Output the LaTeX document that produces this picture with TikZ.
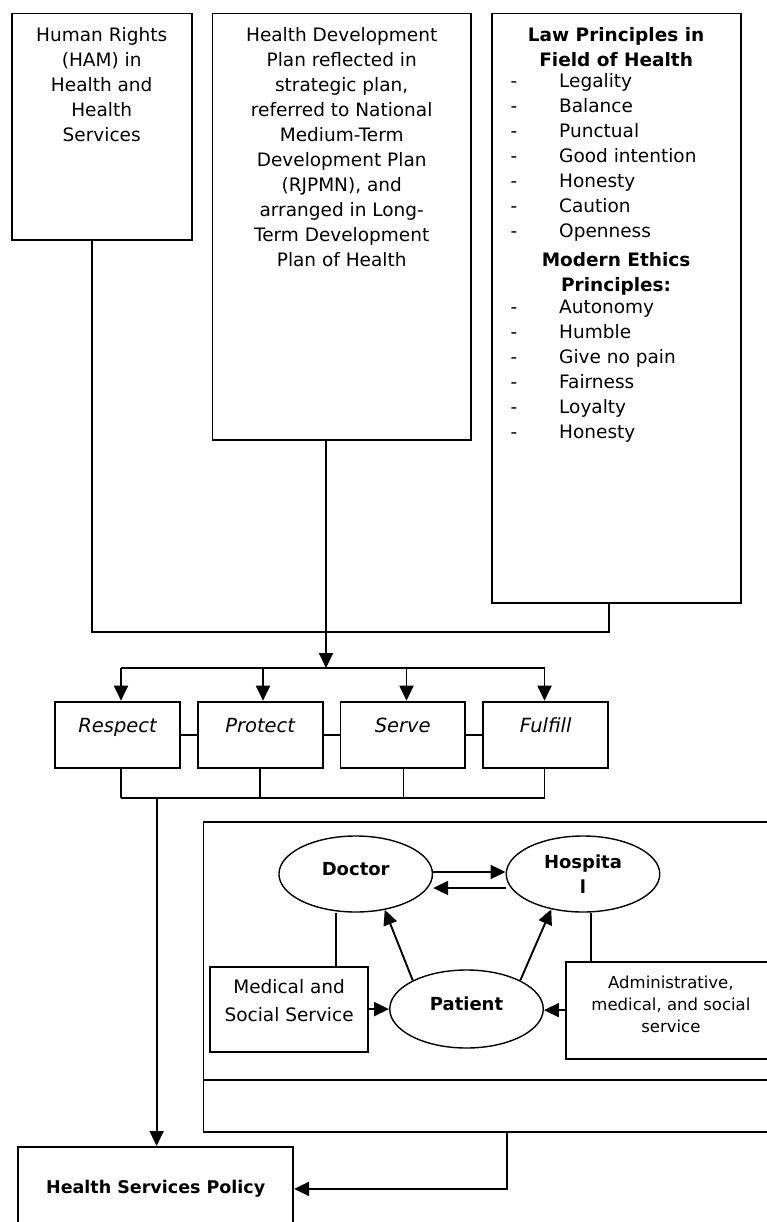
\documentclass[tikz,border=0pt]{standalone}
\usepackage{fontspec}
\setmainfont{DejaVu Sans}
\usetikzlibrary{arrows.meta,shapes.geometric}
\tikzset{
  box/.style={draw, line width=1.8pt, inner sep=0pt, anchor=north west},
  lbl/.style={inner sep=0pt, align=center, font=\fontsize{18.5}{25}\selectfont},
  bold/.style={font=\fontsize{18.5}{25}\selectfont\bfseries},
  item/.style={inner sep=0pt, font=\fontsize{18.5}{25}\selectfont},
  oval/.style={draw, ellipse, line width=1.4pt, inner sep=0pt, align=center,
    minimum width=153.5pt, minimum height=76pt, font=\fontsize{18}{25}\selectfont\bfseries},
  arr/.style={line width=1.9pt, -{Triangle[length=15pt,width=14pt]}},
  link/.style={line width=1.9pt},
  thin/.style={line width=1.1pt}
}
\begin{document}
\begin{tikzpicture}[x=1pt,y=-1pt]
\useasboundingbox (0,0) rectangle (767,1222);
\clip (0,0) rectangle (767,1222);
% top row
\node [box, minimum width=180pt, minimum height=226.6pt] (ham) at (10.8,12.7) {};
\node [lbl, anchor=north] (hamtext) at ([yshift=-14.4pt]ham.north)
  {Human Rights\\(HAM) in\\Health and\\Health\\Services};
\node [box, minimum width=258.4pt, minimum height=426.3pt] (plan) at (211.6,12.7) {};
\node [lbl, anchor=north] (plantext) at ([yshift=-14.4pt]plan.north)
  {Health Development\\Plan reflected in\\strategic plan,\\referred to National\\Medium-Term\\Development Plan\\(RJPMN), and\\arranged in Long-\\Term Development\\Plan of Health};
\node [box, minimum width=249pt, minimum height=589pt] (law) at (490.7,12.7) {};
\node [lbl, bold, anchor=north] (lawtitle) at ([yshift=-14.4pt]law.north)
  {Law Principles in\\Field of Health};
\foreach \txt [count=\i from 0] in {Legality,Balance,Punctual,Good intention,Honesty,Caution,Openness}
  {\node [item] (lawdash\i) at (514,85+25*\i) {-};
   \node [item, anchor=mid west] (lawitem\i) at (559,85+25*\i) {\txt};}
\node [lbl, bold, anchor=north] (ethtitle) at ([yshift=-239.4pt]law.north)
  {Modern Ethics\\Principles:};
\foreach \txt [count=\i from 0] in {Autonomy,Humble,Give no pain,Fairness,Loyalty,Honesty}
  {\node [item] (ethdash\i) at (514,311+25*\i) {-};
   \node [item, anchor=mid west] (ethitem\i) at (559,311+25*\i) {\txt};}

% joining the top row
\coordinate (hubL) at (92,632);
\coordinate (hubR) at (609,632);
\coordinate (split) at (326,668);
\draw [link] (ham.south -| hubL) -- (hubL) -- (hubR) -- (law.south -| hubR);
\draw [arr] (plan.south -| split) -- (split);

% four duties
\foreach \name/\txt/\x in {respect/Respect/54.3, protect/Protect/197, serve/Serve/339.5, fulfill/Fulfill/482.4}
  \node [box, minimum width=124.7pt, text height=31pt, text depth=35pt,
    font=\fontsize{19.5}{25}\selectfont\itshape] (\name) at (\x,700.7) {\txt};
\draw [link] (121,668) -- (544.5,668);
\foreach \name/\x in {respect/121, protect/263, serve/406.5, fulfill/544.5}
  \draw [arr] (\x,668) -- (\name.north -| \x,0);
\draw [link] (respect) -- (protect);
\draw [link] (protect) -- (serve);
\draw [link] (serve) -- (fulfill);
\coordinate (botL) at (121,798);
\coordinate (botR) at (544.5,798);
\coordinate (gather) at (156.6,798);
\foreach \name/\x in {respect/121, protect/260, serve/403.6, fulfill/544.5}
  \draw [thin] (\name.south -| \x,0) -- (\x,798);
\draw [link] (botL) -- (botR);

% relation frame
\node [box, minimum width=600pt, minimum height=310pt] (frame) at (202.5,821) {};
\draw [link] (frame.west |- 0,1080) -- (frame.east |- 0,1080);
\node [oval, text depth=10pt] (doctor) at (355.7,874) {Doctor};
\node [oval] (hospital) at (583,874) {Hospita\\l};
\node [oval, minimum height=78pt, text depth=10pt] (patient) at (466.5,1009) {Patient};
\node [box, minimum width=157.6pt, minimum height=85pt] (medical) at (209.4,965.7) {};
\node [lbl, font=\fontsize{18.5}{28}\selectfont] (medicaltext) at ([yshift=8.2pt]medical.center)
  {Medical and\\Social Service};
\node [box, minimum width=210pt, minimum height=97pt] (admin) at (565,960.7) {};
\node [lbl, font=\fontsize{16.5}{22}\selectfont] (admintext) at ([yshift=6pt]admin.center)
  {Administrative,\\medical, and social\\service};
\draw [arr] ([yshift=2pt]doctor.east) -- ([yshift=2pt]doctor.east -| hospital.west);
\draw [arr] ([yshift=-14pt]hospital.west) -- ([yshift=-14pt]hospital.west -| doctor.east);
\draw [arr] (patient.152) -- (doctor.-51);
\draw [arr] (patient.28) -- (hospital.-132);
\draw [thin] (medical.north -| 336,0) -- (doctor.south -| 336,0);
\draw [thin] (admin.north -| 591,0) -- (hospital.south -| 591,0);
\draw [arr] (medical.east) -- (medical.east -| patient.west);
\draw [arr] (admin.west) -- (admin.west -| patient.east);

% policy
\node [box, minimum width=275pt, minimum height=84pt, font=\fontsize{17.5}{22}\selectfont\bfseries]
  (policy) at (17.3,1146) {Health Services Policy};
\draw [arr] (gather) -- (policy.north -| gather);
\draw [arr] (frame.south -| 507,0) |- (policy.east);
\end{tikzpicture}
\end{document}
